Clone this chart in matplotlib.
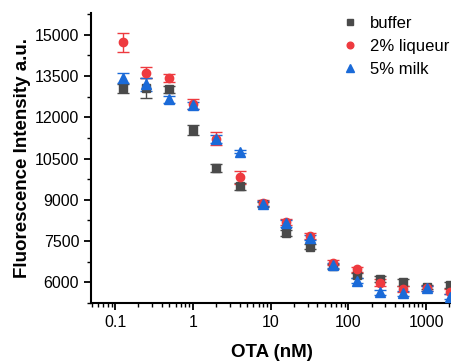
import matplotlib
matplotlib.use("Agg")
import matplotlib.pyplot as plt
import numpy as np

plt.rcParams['font.family'] = ['Liberation Sans', 'DejaVu Sans']

conc = [0.125, 0.25, 0.5, 1, 2, 4, 8, 16, 32, 64, 128, 256, 512, 1024, 2048]

buffer_y = [13050, 13070, 13010, 11540, 10160, 9490, 8830, 7810, 7300, 6580, 6260, 6120, 6000, 5840, 5900]
buffer_e = [170, 370, 120, 170, 140, 120, 100, 110, 100, 90, 90, 120, 130, 80, 110]

liq_y = [14720, 13610, 13420, 12480, 11220, 9820, 8890, 8200, 7690, 6720, 6480, 5990, 5760, 5780, 5660]
liq_e = [340, 200, 150, 180, 240, 240, 100, 110, 100, 90, 90, 120, 110, 80, 100]

milk_y = [13430, 13200, 12650, 12440, 11200, 10750, 8860, 8140, 7630, 6620, 6060, 5640, 5610, 5780, 5480]
milk_e = [180, 240, 140, 130, 150, 60, 90, 110, 90, 90, 90, 90, 90, 80, 100]

labels = ['buffer', '2% liqueur', '5% milk']
colors = ['#4a4a4a', '#ee3a3f', '#1a6ad8']
markers = ['s', 'o', '^']
msizes = [5.5, 6, 6.5]

fig = plt.figure(figsize=(4.52, 3.63), dpi=100)
ax = fig.add_axes([91/452, 1 - 303/363, 1 - 91/452, (303 - 13)/363])

for y, e, lab, c, m, ms in zip([buffer_y, liq_y, milk_y], [buffer_e, liq_e, milk_e], labels, colors, markers, msizes):
    ax.errorbar(conc, y, yerr=e, fmt=m, color=c, ms=ms, mec=c, ecolor=c,
                elinewidth=1.0, capsize=4, capthick=1.0, label=lab, zorder=3)

ax.set_xscale('log')
ax.set_xlim(0.049, 2160)
ax.set_ylim(5290, 15790)
ax.set_yticks([6000, 7500, 9000, 10500, 12000, 13500, 15000])
ax.set_yticks(np.arange(5250, 15800, 750), minor=True)
ax.set_xticks([0.1, 1, 10, 100, 1000])
ax.set_xticklabels(['0.1', '1', '10', '100', '1000'])

for s in ['top', 'right']:
    ax.spines[s].set_visible(False)
for s in ['left', 'bottom']:
    ax.spines[s].set_linewidth(1.5)
ax.tick_params(which='major', direction='out', length=5, width=1.3, labelsize=11.5, pad=3.5)
ax.tick_params(which='minor', direction='out', length=3, width=1.0)

ax.set_xlabel('OTA (nM)', fontsize=13.5, fontweight='bold', labelpad=10)
ax.set_ylabel('Fluorescence Intensity a.u.', fontsize=13.5, fontweight='bold', labelpad=3)

handles, labs = ax.get_legend_handles_labels()
handles = [h[0] for h in handles]
leg = ax.legend(handles, labs, loc='upper left', bbox_to_anchor=(325/452, 1 - 1/363),
                bbox_transform=fig.transFigure, frameon=False, fontsize=12,
                handletextpad=0.6, labelspacing=0.48, handlelength=1.2, markerscale=0.8)

fig.savefig('out.png', dpi=100)
